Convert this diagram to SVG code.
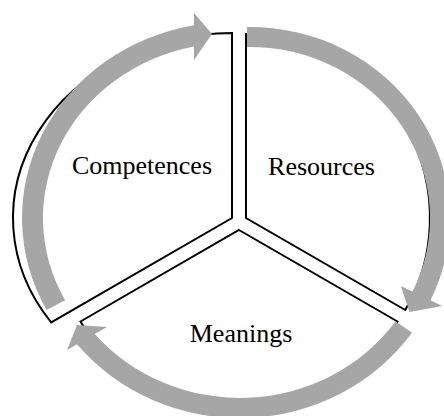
<svg xmlns="http://www.w3.org/2000/svg" width="444" height="416" viewBox="0 0 444 416">
  <style>
    .sector { fill: #ffffff; stroke: #000000; stroke-width: 2; stroke-linejoin: miter; }
    .label { font-family: "Liberation Serif", "Times New Roman", serif; font-size: 26px; fill: #000000; text-anchor: middle; }
    .arrow { fill: #a6a6a6; stroke: none; }
  </style>
  <rect width="444" height="416" fill="#ffffff"/>
  <g id="competences">
    <path class="sector" d="M 232,218 L 232,33 A 219 185 0 0 0 51.2,322.4 Z"/>
    <text class="label" x="142" y="174">Competences</text>
  </g>
  <g id="resources">
    <path class="sector" d="M 246,218 L 246,34 A 184 184 0 0 1 405.3,310 Z"/>
    <text class="label" x="321.5" y="175">Resources</text>
  </g>
  <g id="meanings">
    <path class="sector" d="M 239,230 L 397.5,321.5 A 183 183 0 0 1 80.5,321.5 Z"/>
    <text class="label" x="241" y="342">Meanings</text>
  </g>
  <g id="connectors">
    <path class="arrow" d="M 46.6,310 A 210 196 0 0 1 194,25.2 L 194,13 L 212,34 L 194,60 L 194,46.6 A 189 175 0 0 0 65.1,300.2 Z"/>
    <path class="arrow" d="M 247,27 A 200 191 0 0 1 430.5,300.2 L 442.2,306 L 409.5,312 L 400.8,286 L 412.5,291.6 A 180 171 0 0 0 247,47 Z"/>
    <path class="arrow" d="M 395.6,321.2 A 190 180 0 0 1 94.8,334 L 107,327 L 77,325 L 67,350 L 77,344.3 A 210 200 0 0 0 412,332.7 Z"/>
  </g>
</svg>
